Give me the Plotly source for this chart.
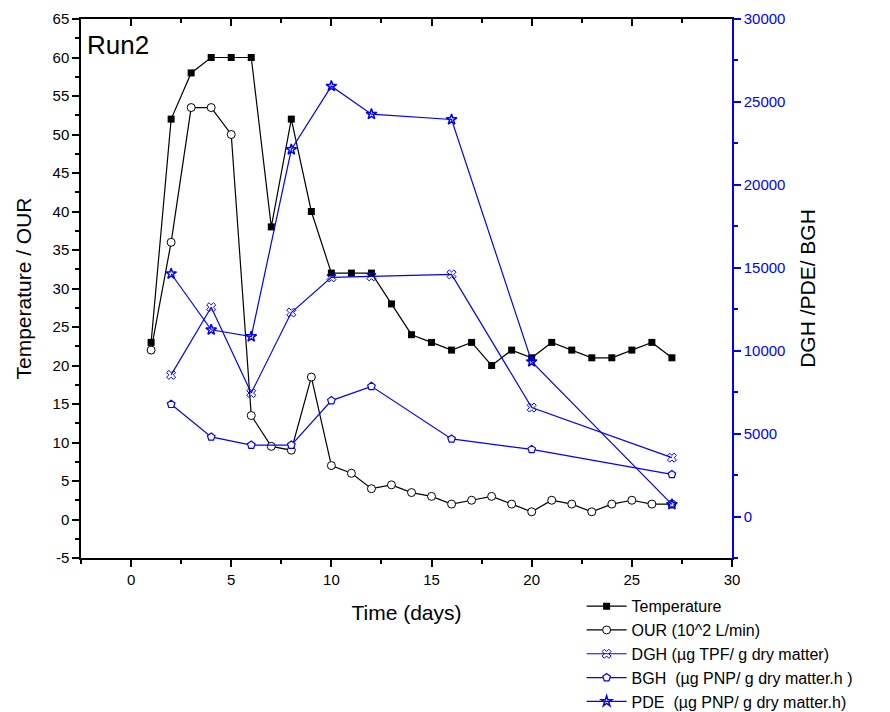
import plotly.graph_objects as go

days = list(range(1, 28))
temperature = [23, 52, 58, 60, 60, 60, 38, 52, 40, 32, 32, 32, 28, 24, 23, 22, 23, 20, 22, 21, 23, 22, 21, 21, 22, 23, 21]
our = [22, 36, 53.5, 53.5, 50, 13.5, 9.5, 9, 18.5, 7, 6, 4, 4.5, 3.5, 3, 2, 2.5, 3, 2, 1, 2.5, 2, 1, 2, 2.5, 2, 2]

enz_days = [2, 4, 6, 8, 10, 12, 16, 20, 27]
dgh = [8540, 12620, 7450, 12300, 14420, 14480, 14600, 6570, 3550]
bgh = [6770, 4800, 4310, 4310, 6990, 7850, 4680, 4050, 2540]
pde = [14640, 11260, 10850, 22130, 25950, 24260, 23940, 9340, 730]

left_ticks = [-5, 0, 5, 10, 15, 20, 25, 30, 35, 40, 45, 50, 55, 60, 65]
left_tick_labels = ["-5", "0", "5", "10", "15", "20", "25", "30", "35", "40", "45", "50", "55", "60", "65"]

BLUE = "#0000FF"
FONT = "Liberation Sans, Arial, sans-serif"

fig = go.Figure()

fig.add_trace(go.Scatter(x=days, y=temperature, name="Temperature", mode="lines+markers",
                         line=dict(color="black", width=1.2),
                         marker=dict(symbol="square", size=7, color="black")))
fig.add_trace(go.Scatter(x=days, y=our, name="OUR (10^2 L/min)", mode="lines+markers",
                         line=dict(color="black", width=1.2),
                         marker=dict(symbol="circle", size=8, color="white",
                                     line=dict(color="black", width=1))))
fig.add_trace(go.Scatter(x=enz_days, y=dgh, name="DGH (µg TPF/ g dry matter)", mode="lines+markers",
                         yaxis="y2",
                         line=dict(color=BLUE, width=1.2),
                         marker=dict(symbol="x-open", size=8, color=BLUE,
                                     line=dict(color=BLUE, width=1))))
fig.add_trace(go.Scatter(x=enz_days, y=bgh, name="BGH  (µg PNP/ g dry matter.h )", mode="lines+markers",
                         yaxis="y2",
                         line=dict(color=BLUE, width=1.2),
                         marker=dict(symbol="pentagon", size=8, color="white",
                                     line=dict(color=BLUE, width=1.2))))
fig.add_trace(go.Scatter(x=enz_days, y=pde, name="PDE  (µg PNP/ g dry matter.h)", mode="lines+markers",
                         yaxis="y2",
                         line=dict(color=BLUE, width=1.2),
                         marker=dict(symbol="star-open", size=8, color=BLUE,
                                     line=dict(color=BLUE, width=1.5))))
# empty trace so the top (mirror) axis with inward ticks is drawn
fig.add_trace(go.Scatter(x=[], y=[], xaxis="x2", showlegend=False, hoverinfo="skip"))

fig.update_layout(
    width=882, height=704,
    margin=dict(l=73, r=158, t=11, b=154, autoexpand=False),
    paper_bgcolor="white", plot_bgcolor="white",
    font=dict(family=FONT, color="black", size=15),
    showlegend=True,
    legend=dict(x=0.769, y=-0.058, xanchor="left", yanchor="top",
                font=dict(size=16, family=FONT), bgcolor="rgba(0,0,0,0)",
                tracegroupgap=0, itemwidth=40),
    xaxis=dict(range=[-2.5, 30], dtick=5, tick0=0, showgrid=False, zeroline=False, automargin=False,
               showline=True, linecolor="black", linewidth=1.5,
               ticks="outside", ticklen=7, tickwidth=1.5, tickcolor="black",
               minor=dict(dtick=2.5, tick0=0, ticks="outside", ticklen=4, tickwidth=1.5, tickcolor="black"),
               tickfont=dict(size=15),
               title=dict(text="Time (days)", font=dict(size=21), standoff=19)),
    xaxis2=dict(range=[-2.5, 30], dtick=5, tick0=0, overlaying="x", side="top", anchor="y",
                showgrid=False, zeroline=False, showticklabels=False, automargin=False,
                showline=True, linecolor="black", linewidth=1.5,
                ticks="inside", ticklen=7, tickwidth=1.5, tickcolor="black",
                minor=dict(dtick=2.5, tick0=0, ticks="inside", ticklen=4, tickwidth=1.5, tickcolor="black")),
    yaxis=dict(range=[-5, 65], tickvals=left_ticks, ticktext=left_tick_labels,
               showgrid=False, zeroline=False, automargin=False,
               showline=True, linecolor="black", linewidth=1.5,
               ticks="outside", ticklen=7, tickwidth=1.5, tickcolor="black",
               minor=dict(dtick=2.5, tick0=0, ticks="outside", ticklen=4, tickwidth=1.5, tickcolor="black"),
               tickfont=dict(size=15),
               title=dict(text="Temperature / OUR", font=dict(size=21), standoff=15)),
    yaxis2=dict(range=[-2500, 30000], dtick=5000, tick0=0, tickformat="d", overlaying="y", side="right",
                showgrid=False, zeroline=False, automargin=False,
                showline=True, linecolor=BLUE, linewidth=1.5,
                ticks="outside", ticklen=7, tickwidth=1.5, tickcolor=BLUE,
                minor=dict(dtick=2500, tick0=0, ticks="outside", ticklen=4, tickwidth=1.5, tickcolor=BLUE),
                tickfont=dict(size=15, color=BLUE),
                title=dict(text="DGH /PDE/ BGH", font=dict(size=21, color="black"), standoff=16)),
    annotations=[dict(text="Run2", x=0.0, y=1.0, xref="paper", yref="paper",
                      xanchor="left", yanchor="top", xshift=4, yshift=-9,
                      showarrow=False, font=dict(size=26, family=FONT))],
)

fig.write_html("out.html")
